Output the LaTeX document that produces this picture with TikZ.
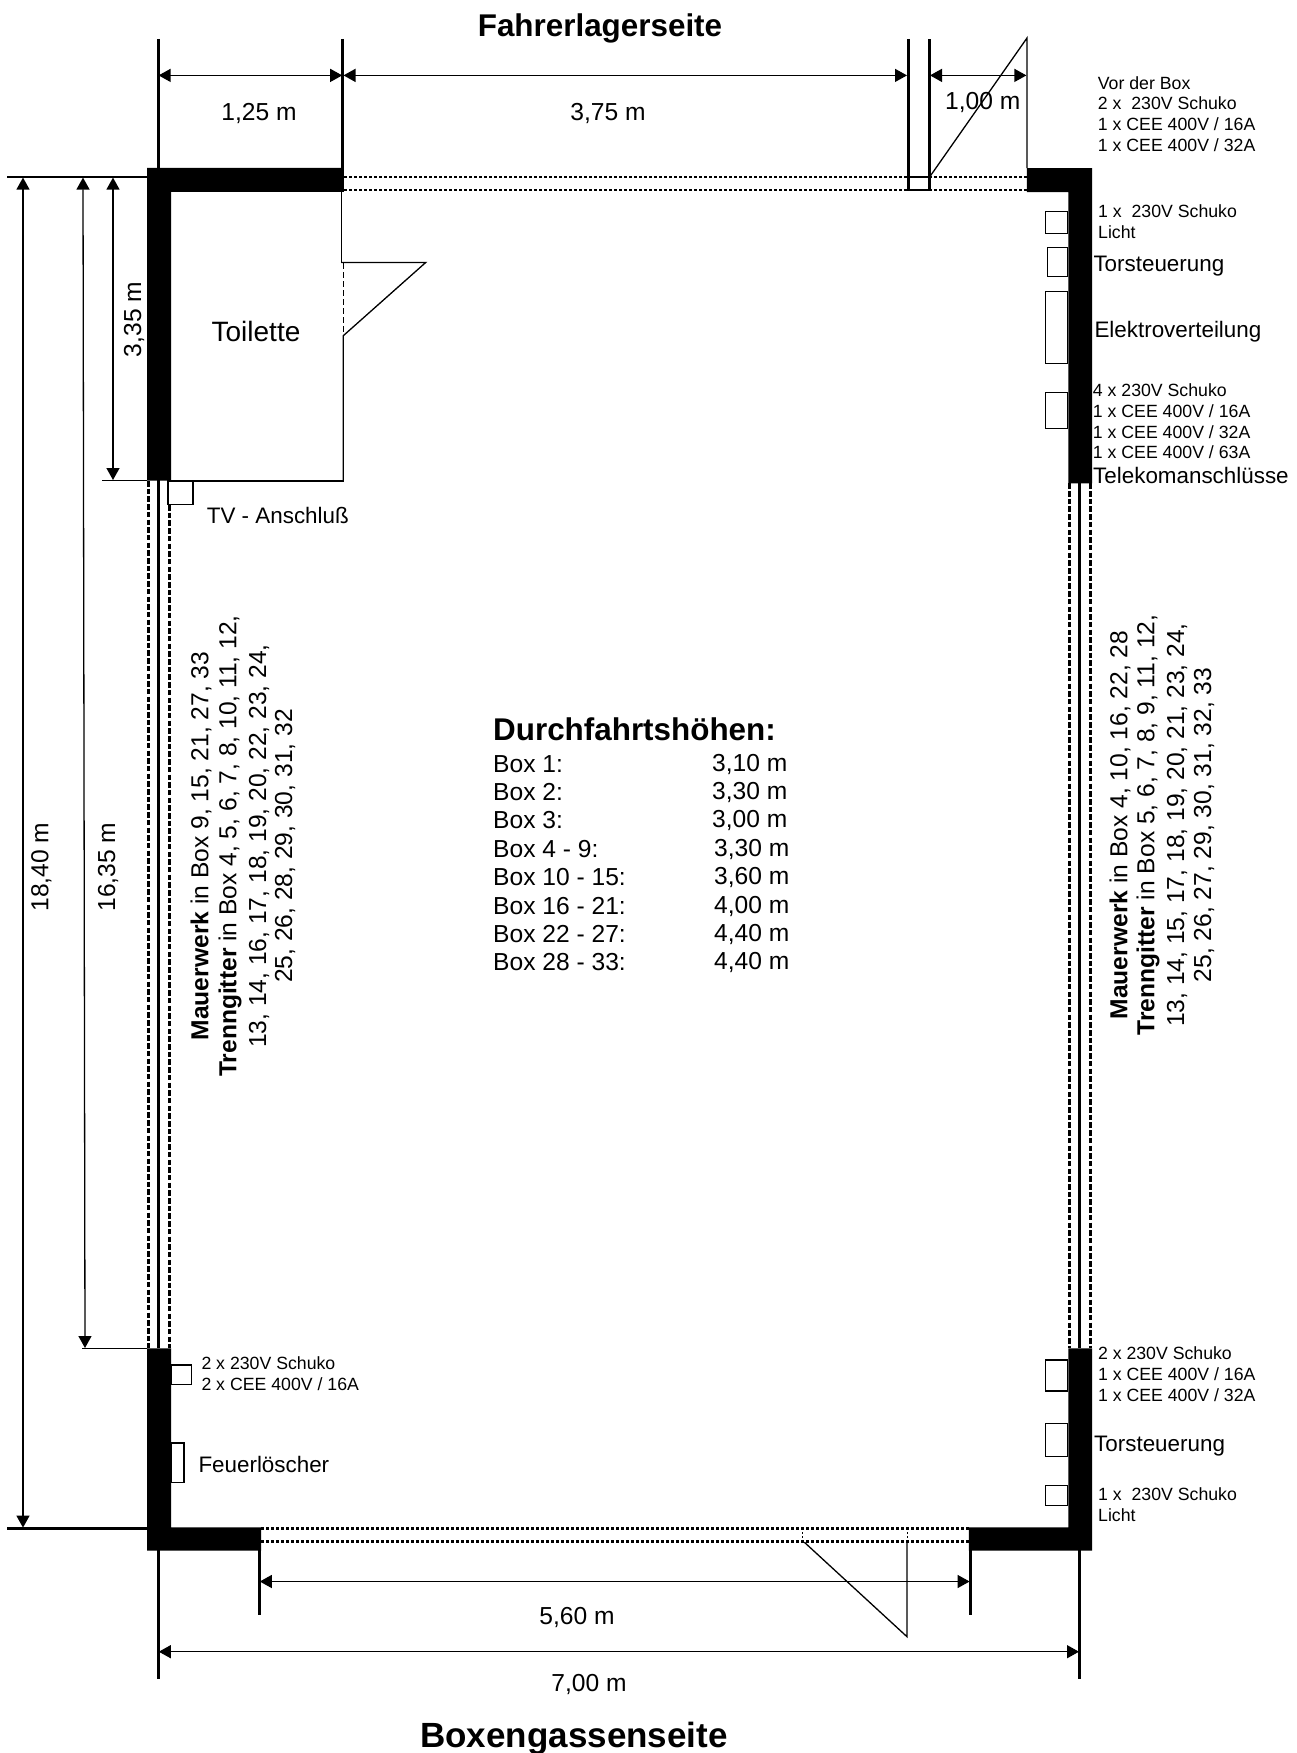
\documentclass[tikz,border=0pt]{standalone}
\usepackage{fontspec}
\setmainfont{Liberation Sans}
\usetikzlibrary{arrows.meta}
\newcommand{\fsmall}{\fontsize{17.7}{20.7}\selectfont}
\newcommand{\fnorm}{\fontsize{22.4}{26}\selectfont}
\newcommand{\fdim}{\fontsize{24.6}{28}\selectfont}
\newcommand{\fbig}{\fontsize{31.4}{36}\selectfont}
\tikzset{
  wall/.style={fill=black,draw=none},
  extline/.style={line width=2.6pt,line cap=butt},
  refline/.style={line width=2.3pt},
  dim/.style={line width=1.3pt,{Triangle[length=12pt,width=13pt]}-{Triangle[length=12pt,width=13pt]}},
  thin line/.style={line width=1.3pt},
  fixture/.style={draw,line width=1.3pt,fill=white},
  dotted wall/.style={line width=2.5pt,dash pattern=on 3.3pt off 1.7pt},
  grid wall/.style={line width=3pt,dash pattern=on 5.5pt off 2.2pt},
  small/.style={font=\fsmall,align=left,anchor=west,inner sep=0pt},
  norm/.style={font=\fnorm,inner sep=0pt},
  normleft/.style={norm,anchor=west},
  dimlabel/.style={font=\fdim,inner sep=0pt},
  vert/.style={font=\fdim,rotate=90,inner sep=0pt,anchor=center},
  title/.style={font=\fbig\bfseries,inner sep=0pt}
}
\begin{document}
\begin{tikzpicture}[x=1pt,y=-1pt]
\useasboundingbox (0,0) rectangle (1296,1753);
% walls
\fill[wall] (147,167.8) -- (343.8,167.8) -- (343.8,191.8) -- (171,191.8) -- (171,480.6) -- (147,480.6) -- cycle;
\fill[wall] (1026.8,168) -- (1092,168) -- (1092,483.3) -- (1068.3,483.3) -- (1068.3,192) -- (1026.8,192) -- cycle;
\fill[wall] (147,1348.3) -- (171,1348.3) -- (171,1527.3) -- (261,1527.3) -- (261,1550.7) -- (147,1550.7) -- cycle;
\fill[wall] (1068.3,1348.3) -- (1092,1348.3) -- (1092,1550.7) -- (968.9,1550.7) -- (968.9,1527.3) -- (1068.3,1527.3) -- cycle;
% gate openings
\draw[dotted wall] (344,177) -- (1026.8,177);
\draw[dotted wall] (344,190) -- (1026.8,190);
\draw[dotted wall] (261,1528.4) -- (968.9,1528.4);
\draw[dotted wall] (261,1541.4) -- (968.9,1541.4);
% side walls
\draw[grid wall] (148.6,481) -- (148.6,1348.3);
\draw[grid wall] (169.4,505) -- (169.4,1348.3);
\draw[line width=3pt] (158.3,480) -- (158.3,1348.3);
\draw[grid wall] (1069.6,483.3) -- (1069.6,1348.3);
\draw[grid wall] (1090.4,483.3) -- (1090.4,1348.3);
\draw[line width=3pt] (1079.6,483.3) -- (1079.6,1348.3);
% extension lines top
\draw[extline] (158.3,39) -- (158.3,168);
\draw[extline] (342.6,39) -- (342.6,168);
\draw[extline] (908.3,39) -- (908.3,190) -- (929.3,190) -- (929.3,39);
\draw[line width=2.4pt] (908.3,176.7) -- (929.3,176.7);
\draw[thin line] (929.8,176.7) -- (1027,38) -- (1027,168);
% reference lines left
\draw[refline] (7,177) -- (147,177);
\draw[refline] (7,1528.4) -- (147,1528.4);
\draw[thin line] (102,480.4) -- (147,480.4);
\draw[thin line] (82,1348.7) -- (147,1348.7);
% dimensions
\draw[dim] (158.6,75.4) -- (342.2,75.4);
\draw[dim] (343.5,75.4) -- (907,75.4);
\draw[dim] (930,75.4) -- (1026.4,75.4);
\draw[dim] (23,177.6) -- (23,1527.6);
\draw[dim] (83,177.6) -- (85,1348);
\draw[dim] (113,177.6) -- (113,480);
\draw[dim] (259.8,1581.5) -- (969.6,1581.5);
\draw[dim] (158.8,1651.7) -- (1079,1651.7);
% extension lines bottom
\draw[extline] (158.3,1550) -- (158.3,1679);
\draw[extline] (1079.6,1550) -- (1079.6,1679);
\draw[extline] (259.4,1550) -- (259.4,1614.5);
\draw[extline] (970.3,1550) -- (970.3,1614.5);
% toilet
\draw[thin line] (341.4,191.8) -- (341.4,262.5);
\draw[thin line] (341.4,262.5) -- (425.7,262.5) -- (343.3,335.7) -- (343.3,481);
\draw[line width=1.3pt,dash pattern=on 6pt off 3pt] (343.3,263) -- (343.3,335.7);
\draw[line width=2pt] (171,481) -- (343.9,481);
% bottom door
\draw[thin line] (804.4,1542.3) -- (907,1636.7) -- (907,1542.3);
\draw[line width=0.6pt,dash pattern=on 2pt off 2pt] (802.7,1528) -- (802.7,1542);
\draw[line width=0.6pt,dash pattern=on 2pt off 2pt] (907,1528) -- (907,1542);
% fixtures
\draw[fixture] (168,481) rectangle (193,504.6);
\draw[fixture] (171,1365) rectangle (191.3,1384.7);
\draw[fixture] (171,1443) rectangle (184,1482.7);
\draw[fixture] (1045.7,211.7) rectangle (1067.8,233.3);
\draw[fixture] (1047.7,247.7) rectangle (1067.8,276.7);
\draw[fixture] (1045.7,291.7) rectangle (1067.8,363.3);
\draw[fixture] (1045.7,392.7) rectangle (1067.8,428.7);
\draw[fixture] (1045.8,1360) rectangle (1067.8,1391);
\draw[fixture] (1045.8,1423.7) rectangle (1067.8,1456.3);
\draw[fixture] (1045.8,1485.7) rectangle (1067.8,1505.7);
% titles
\node[title] (t1) at (600,28.5) {Fahrerlagerseite};
\node[title,font=\fontsize{35}{40}\selectfont\bfseries] (t2) at (574,1739) {Boxengassenseite};
% dimension labels
\node[dimlabel] (d1) at (259,113.5) {1,25 m};
\node[dimlabel] (d2) at (608,113.5) {3,75 m};
\node[dimlabel,anchor=west] (d3) at (945,102) {1,00 m};
\node[dimlabel,rotate=90] (d4) at (134,319.5) {3,35 m};
\node[dimlabel,rotate=90] (d5) at (108,867) {16,35 m};
\node[dimlabel,rotate=90] (d6) at (41.4,867) {18,40 m};
\node[dimlabel] (d7) at (577,1617) {5,60 m};
\node[dimlabel] (d8) at (589,1684) {7,00 m};
\node[norm,font=\fontsize{28}{32}\selectfont] (toi) at (256,331) {Toilette};
% right notes
\node[small] (n1) at (1097.7,114) {Vor der Box\\2 x\ \ 230V Schuko\\1 x CEE 400V / 16A\\1 x CEE 400V / 32A};
\node[small] (n2) at (1098,221.5) {1 x\ \ 230V Schuko\\Licht};
\node[normleft] (n3) at (1093.3,266.5) {Torsteuerung};
\node[normleft] (n4) at (1094.3,331.5) {Elektroverteilung};
\node[small] (n5) at (1092.7,421.5) {4 x 230V Schuko\\1 x CEE 400V / 16A\\1 x CEE 400V / 32A\\1 x CEE 400V / 63A};
\node[normleft] (n6) at (1093,475) {Telekomanschlüsse};
\node[small] (n7) at (1097.8,1374) {2 x 230V Schuko\\1 x CEE 400V / 16A\\1 x CEE 400V / 32A};
\node[normleft] (n8) at (1094,1446.5) {Torsteuerung};
\node[small] (n9) at (1098,1504.5) {1 x\ \ 230V Schuko\\Licht};
% left notes
\node[normleft] (l1) at (206.7,515.5) {TV - Anschluß};
\node[small] (l2) at (201.3,1373.5) {2 x 230V Schuko\\2 x CEE 400V / 16A};
\node[normleft] (l3) at (198.3,1464) {Feuerlöscher};
% vertical texts left
\node[vert] (vl1) at (201,846) {\textbf{Mauerwerk} in Box 9, 15, 21, 27, 33};
\node[vert] (vl2) at (230,846) {\textbf{Trenngitter} in Box 4, 5, 6, 7, 8, 10, 11, 12,};
\node[vert] (vl3) at (259,846) {13, 14, 16, 17, 18, 19, 20, 22, 23, 24,};
\node[vert] (vl4) at (285,846) {25, 26, 28, 29, 30, 31, 32};
% vertical texts right
\node[vert] (vr1) at (1120,825) {\textbf{Mauerwerk} in Box 4, 10, 16, 22, 28};
\node[vert] (vr2) at (1148,825) {\textbf{Trenngitter} in Box 5, 6, 7, 8, 9, 11, 12,};
\node[vert] (vr3) at (1177,825) {13, 14, 15, 17, 18, 19, 20, 21, 23, 24,};
\node[vert] (vr4) at (1204,825) {25, 26, 27, 29, 30, 31, 32, 33};
% heights table
\node[title,anchor=west] (h0) at (493,729) {Durchfahrtshöhen:};
\node[dimlabel,anchor=west] (a1) at (493,764.5) {Box 1:};      \node[dimlabel,anchor=west] (b1) at (712,764.5) {3,10 m};
\node[dimlabel,anchor=west] (a2) at (493,792.5) {Box 2:};      \node[dimlabel,anchor=west] (b2) at (712,792.5) {3,30 m};
\node[dimlabel,anchor=west] (a3) at (493,820.5) {Box 3:};      \node[dimlabel,anchor=west] (b3) at (712,820.5) {3,00 m};
\node[dimlabel,anchor=west] (a4) at (493,849.5) {Box 4 - 9:};  \node[dimlabel,anchor=west] (b4) at (714,849.5) {3,30 m};
\node[dimlabel,anchor=west] (a5) at (493,877.5) {Box 10 - 15:};\node[dimlabel,anchor=west] (b5) at (714,877.5) {3,60 m};
\node[dimlabel,anchor=west] (a6) at (493,906.5) {Box 16 - 21:};\node[dimlabel,anchor=west] (b6) at (714,906.5) {4,00 m};
\node[dimlabel,anchor=west] (a7) at (493,934.5) {Box 22 - 27:};\node[dimlabel,anchor=west] (b7) at (714,934.5) {4,40 m};
\node[dimlabel,anchor=west] (a8) at (493,962.5) {Box 28 - 33:};\node[dimlabel,anchor=west] (b8) at (714,962.5) {4,40 m};
\end{tikzpicture}
\end{document}
